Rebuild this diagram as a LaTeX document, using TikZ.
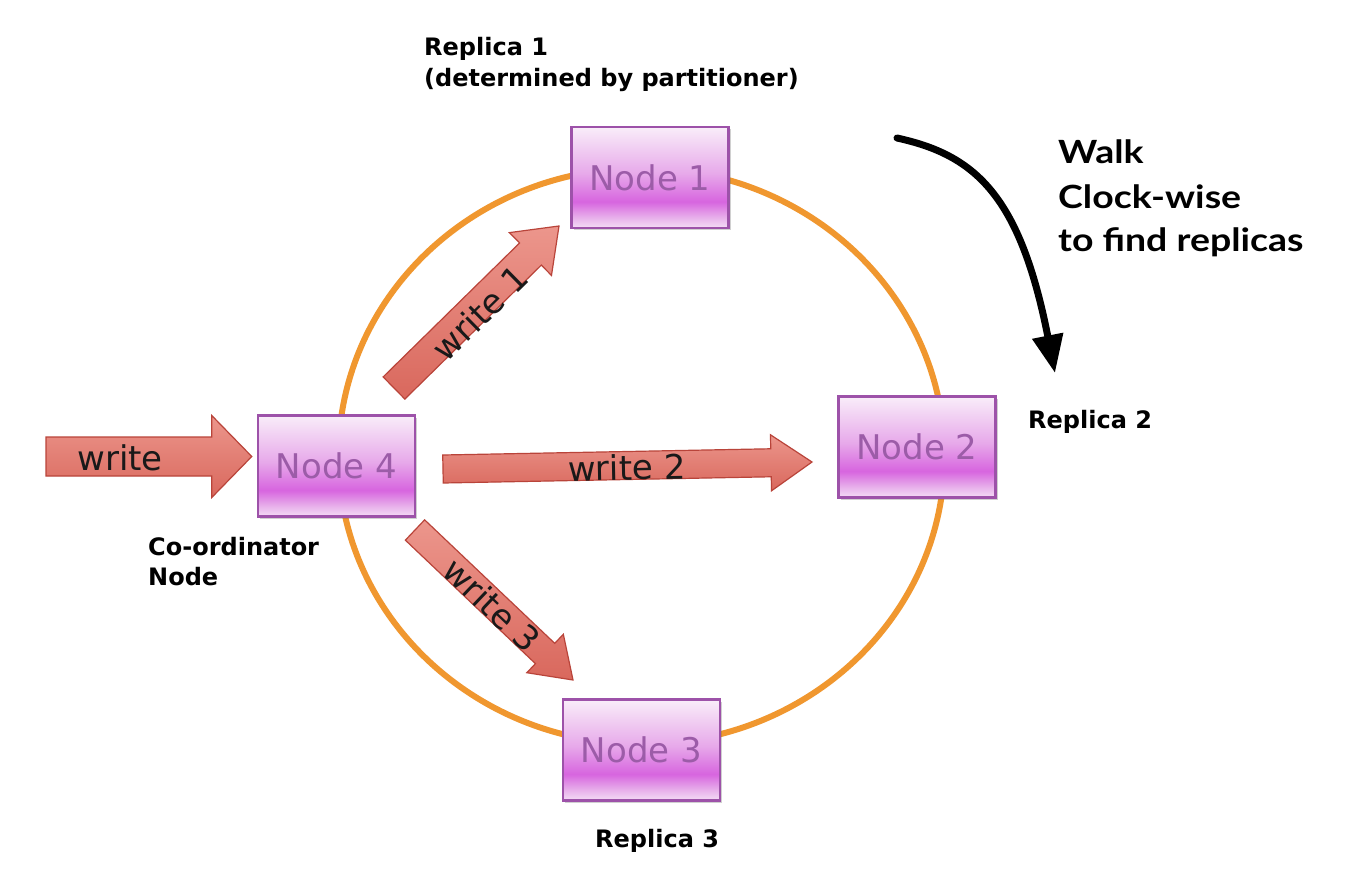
\documentclass[tikz,border=0pt]{standalone}
\usepackage{fontspec}
\setmainfont{DejaVu Sans}
\newfontfamily\walkfont{Lato}[FakeStretch=1.17]
\usetikzlibrary{calc,shadows,arrows.meta}
\definecolor{ringc}{HTML}{F0972F}
\definecolor{nborder}{HTML}{9D52A9}
\definecolor{ntext}{HTML}{9C5CA8}
\definecolor{nb0}{HTML}{F4DDF5}
\definecolor{nb1}{HTML}{E8B2EB}
\definecolor{nmag}{HTML}{D765DF}
\definecolor{nmid}{HTML}{E7A9EA}
\definecolor{ntop}{HTML}{F9EDF9}
\definecolor{atop}{HTML}{EC968C}
\definecolor{abot}{HTML}{D9685D}
\definecolor{aborder}{HTML}{B9443A}
\pgfdeclareverticalshading{nodeshade}{100bp}{color(0bp)=(nb0); color(25bp)=(nb0); color(30bp)=(nb1); color(38bp)=(nmag); color(52bp)=(nmid); color(75bp)=(ntop); color(100bp)=(ntop)}
\newcommand{\blkarrow}[5]{%
  \coordinate (hb) at ($(#2)!#5!(#1)$);
  \path[blockarrow] ($(#1)!#3!90:(#2)$) -- ($(hb)!#3!90:(#2)$) -- ($(hb)!#4!90:(#2)$) -- (#2) -- ($(hb)!#4!-90:(#2)$) -- ($(hb)!#3!-90:(#2)$) -- ($(#1)!#3!-90:(#2)$) -- cycle;}
\begin{document}
\begin{tikzpicture}[x=1pt,y=-1pt,
  nodebox/.style={draw=nborder, line width=2.5pt, shading=nodeshade, minimum width=157pt, minimum height=101pt, inner sep=0pt, text=ntext, font=\fontsize{34}{34}\selectfont, drop shadow={shadow xshift=2pt, shadow yshift=-2pt, opacity=0.3, fill=black!60}},
  blockarrow/.style={draw=aborder, line width=1.2pt, top color=atop, bottom color=abot, line join=miter},
  arrowtext/.style={font=\fontsize{34}{34}\selectfont, text=black!90, inner sep=0pt},
  lbl/.style={font=\fontsize{24}{24}\selectfont\bfseries, inner sep=0pt, anchor=base west},
  walk/.style={font=\walkfont\bfseries\fontsize{32}{32}\selectfont, inner sep=0pt, anchor=base west}]
\useasboundingbox (0,0) rectangle (1368,886);
\fill[white] (0,0) rectangle (1368,886);
% ring
\draw[ringc, line width=6pt] (641.5,456) ellipse [x radius=303, y radius=288];
% nodes
\node[nodebox] (n1) at (650,177.5) {Node 1};
\node[nodebox] (n4) at (336.5,466) {Node 4};
\node[nodebox] (n2) at (917,447) {Node 2};
\node[nodebox] (n3) at (641.5,750) {Node 3};
% block arrows
\coordinate (w0a) at (46,456.5);
\coordinate (w0b) at ($(n4.west)+(-5,-9.5)$);
\coordinate (w2a) at (443,469);
\coordinate (w2b) at (812,462);
\coordinate (w1a) at (394,388);
\coordinate (w1b) at (559,226);
\coordinate (w3a) at (415,530);
\coordinate (w3b) at (573,680);
\blkarrow{w0a}{w0b}{19.5pt}{41pt}{40pt}
\blkarrow{w2a}{w2b}{14pt}{28pt}{41pt}
\blkarrow{w1a}{w1b}{15.5pt}{30pt}{40pt}
\blkarrow{w3a}{w3b}{14pt}{26.5pt}{38.5pt}
\node[arrowtext, anchor=base] (t0) at (120,470) {write};
\node[arrowtext, anchor=base, rotate=1.1] (t2) at (627,480) {write 2};
\node[arrowtext, rotate=44.5] (t1) at (480,313) {write 1};
\node[arrowtext, rotate=-43.5] (t3) at (492,605) {write 3};
% clockwise arrow
\coordinate (ca) at (897,138);
\coordinate (cb) at (1055,373);
\draw[line width=7pt, line cap=round, -{Triangle[length=38pt,width=30pt]}] (ca) .. controls (975,155) and (1020,195) .. (cb);
% labels
\node[lbl] (r1a) at (424,55) {Replica 1};
\node[lbl] (r1b) at (424,86) {(determined by partitioner)};
\node[lbl] (r2) at (1028,428) {Replica 2};
\node[lbl] (r3) at (595,847) {Replica 3};
\node[lbl] (co1) at (148,555) {Co-ordinator};
\node[lbl] (co2) at (148,585) {Node};
\node[walk] (wk1) at (1058,163) {Walk};
\node[walk] (wk2) at (1058,208) {Clock-wise};
\node[walk] (wk3) at (1058,251) {to find replicas};
\end{tikzpicture}
\end{document}
